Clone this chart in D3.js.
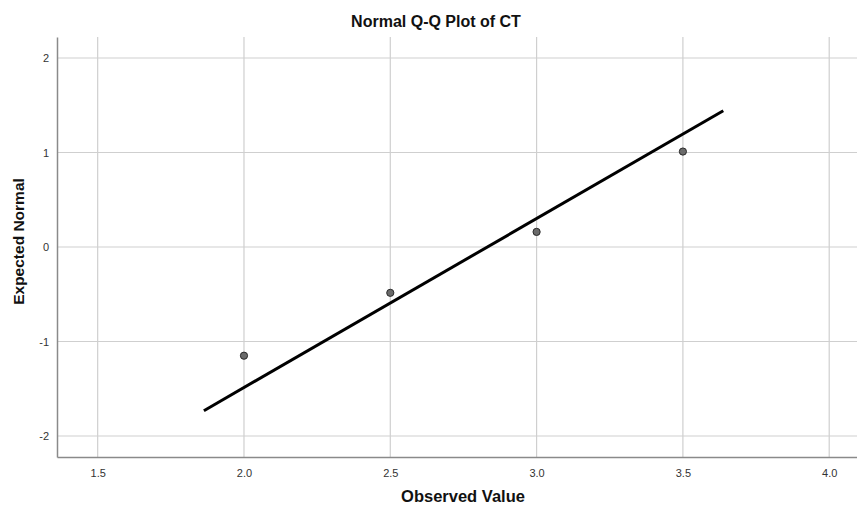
<!DOCTYPE html>
<html><head><meta charset="utf-8">
<script src="https://cdn.jsdelivr.net/npm/d3@7"></script>
<style>body{margin:0;background:#fff}svg{display:block}</style>
</head><body><svg id="c" width="857" height="507"></svg>
<script>
const title = "Normal Q-Q Plot of CT";
const xLabel = "Observed Value";
const yLabel = "Expected Normal";
const observed = [2.0, 2.5, 3.0, 3.5];
const expected = [-1.15, -0.485, 0.16, 1.01];
const lineX = [1.863, 3.638];
const lineY = [-1.732, 1.442];
const xTicks = [1.5, 2.0, 2.5, 3.0, 3.5, 4.0];
const yTicks = [-2, -1, 0, 1, 2];

const svg = d3.select("#c");
const L = 57, R = 857, T = 37, B = 457;
const x = d3.scaleLinear().domain([1.361, 4.095]).range([L, R]);
const y = d3.scaleLinear().domain([-2.222, 2.222]).range([B, T]);

const font = "Arial, 'Liberation Sans', sans-serif";
// grid
svg.append("g").selectAll("line").data(xTicks).join("line")
  .attr("x1", d => x(d)).attr("x2", d => x(d)).attr("y1", T).attr("y2", B)
  .attr("stroke", "#cfcfcf").attr("stroke-width", 1.2);
svg.append("g").selectAll("line").data(yTicks).join("line")
  .attr("x1", L).attr("x2", R).attr("y1", d => y(d)).attr("y2", d => y(d))
  .attr("stroke", "#cfcfcf").attr("stroke-width", 1.2);

// axes
const xa = svg.append("g").attr("transform", `translate(0,${B})`)
  .call(d3.axisBottom(x).tickValues(xTicks).tickFormat(d => d.toFixed(1)).tickSize(0).tickPadding(12));
const ya = svg.append("g").attr("transform", `translate(${L},0)`)
  .call(d3.axisLeft(y).tickValues(yTicks).tickFormat(d => String(d)).tickSize(0).tickPadding(8));
[xa, ya].forEach(a => {
  a.select(".domain").attr("stroke", "#8a8a8a").attr("stroke-width", 1.5);
  a.selectAll("text").attr("font-family", font).attr("font-size", 11).attr("fill", "#333");
});

// line
svg.append("line")
  .attr("x1", x(lineX[0])).attr("y1", y(lineY[0]))
  .attr("x2", x(lineX[1])).attr("y2", y(lineY[1]))
  .attr("stroke", "#000").attr("stroke-width", 3);

// points
svg.append("g").selectAll("circle").data(observed).join("circle")
  .attr("cx", d => x(d)).attr("cy", (d, i) => y(expected[i])).attr("r", 3.6)
  .attr("fill", "#6a6a6a").attr("stroke", "#2a2a2a").attr("stroke-width", 1);

// labels
svg.append("text").attr("x", 436).attr("y", 27).attr("text-anchor", "middle")
  .attr("font-family", font).attr("font-weight", "bold").attr("font-size", 16).attr("fill", "#111").text(title);
svg.append("text").attr("x", 463).attr("y", 502).attr("text-anchor", "middle")
  .attr("font-family", font).attr("font-weight", "bold").attr("font-size", 16.5).attr("fill", "#111").text(xLabel);
svg.append("text").attr("transform", "translate(24,241.5) rotate(-90)").attr("text-anchor", "middle")
  .attr("font-family", font).attr("font-weight", "bold").attr("font-size", 15.5).attr("fill", "#111").text(yLabel);
</script></body></html>
